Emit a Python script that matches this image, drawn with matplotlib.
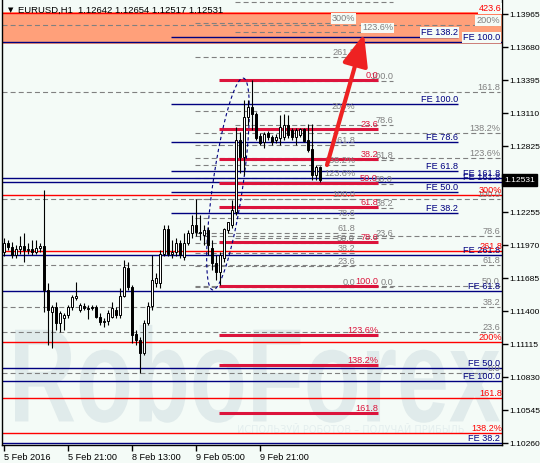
import numpy as np
import matplotlib.pyplot as plt
from matplotlib.patches import Rectangle, FancyArrowPatch, PathPatch
from matplotlib.textpath import TextPath
from matplotlib.font_manager import FontProperties
from matplotlib.transforms import Affine2D, blended_transform_factory

plt.rcParams['font.family'] = ['Liberation Sans', 'DejaVu Sans']

# EURUSD H1 candles
opens = [1.11910, 1.11988, 1.11953, 1.11884, 1.11936, 1.11962, 1.11927, 1.11936, 1.11910, 1.11944,
         1.11962, 1.11582, 1.11392, 1.11435, 1.11297, 1.11340, 1.11366, 1.11435, 1.11512, 1.11409,
         1.11443, 1.11426, 1.11435, 1.11435, 1.11348, 1.11305, 1.11314, 1.11348, 1.11409, 1.11366,
         1.11530, 1.11772, 1.11607, 1.11202, 1.11150, 1.11038, 1.11297, 1.11443, 1.11642, 1.11642,
         1.11893, 1.12108, 1.11893, 1.11910, 1.11988, 1.11867, 1.11988, 1.12074, 1.12143, 1.12082,
         1.12057, 1.12100, 1.11944, 1.11815, 1.11737, 1.11858, 1.12100, 1.12143, 1.12255, 1.12877,
         1.12730, 1.13076, 1.13162, 1.13102, 1.12912, 1.12860, 1.12937, 1.12903, 1.12877, 1.12894,
         1.12903, 1.13007, 1.12963, 1.12903, 1.12920, 1.12972, 1.12877, 1.12799, 1.12575, 1.12642]
highs = [1.12031, 1.12013, 1.11996, 1.11970, 1.12048, 1.12074, 1.11988, 1.12013, 1.12013, 1.11988,
         1.12445, 1.11642, 1.11452, 1.11478, 1.11400, 1.11383, 1.11452, 1.11538, 1.11651, 1.11469,
         1.11469, 1.11452, 1.11452, 1.11452, 1.11383, 1.11340, 1.11409, 1.11478, 1.11435, 1.11599,
         1.11841, 1.11823, 1.11625, 1.11236, 1.11176, 1.11323, 1.11478, 1.11884, 1.11728, 1.11927,
         1.12143, 1.12143, 1.12013, 1.12031, 1.12013, 1.12074, 1.12100, 1.12229, 1.12367, 1.12229,
         1.12143, 1.12126, 1.12013, 1.11884, 1.11910, 1.12117, 1.12169, 1.12359, 1.12989, 1.12946,
         1.13222, 1.13222, 1.13395, 1.13119, 1.12937, 1.12946, 1.12955, 1.12920, 1.12929, 1.13093,
         1.13102, 1.13093, 1.12981, 1.12981, 1.12981, 1.12981, 1.13015, 1.13015, 1.12661, 1.12654]
lows = [1.11875, 1.11927, 1.11858, 1.11858, 1.11893, 1.11823, 1.11893, 1.11884, 1.11893, 1.11910,
        1.11392, 1.11107, 1.11081, 1.11236, 1.11219, 1.11236, 1.11340, 1.11409, 1.11495, 1.11392,
        1.11409, 1.11331, 1.11409, 1.11340, 1.11279, 1.11262, 1.11279, 1.11340, 1.11340, 1.11340,
        1.11521, 1.11582, 1.11124, 1.11107, 1.10865, 1.11020, 1.11279, 1.11409, 1.11607, 1.11599,
        1.11875, 1.11875, 1.11858, 1.11875, 1.11858, 1.11841, 1.11970, 1.12031, 1.12048, 1.12013,
        1.11970, 1.11884, 1.11754, 1.11668, 1.11625, 1.11823, 1.12074, 1.12117, 1.12229, 1.12592,
        1.12575, 1.13007, 1.12963, 1.12877, 1.12834, 1.12808, 1.12877, 1.12834, 1.12851, 1.12834,
        1.12877, 1.12894, 1.12877, 1.12834, 1.12903, 1.12860, 1.12773, 1.12531, 1.12531, 1.12517]
closes = [1.11988, 1.11953, 1.11884, 1.11936, 1.11962, 1.11927, 1.11936, 1.11910, 1.11944, 1.11962,
          1.11582, 1.11409, 1.11435, 1.11297, 1.11383, 1.11366, 1.11435, 1.11521, 1.11530, 1.11452,
          1.11426, 1.11418, 1.11426, 1.11348, 1.11305, 1.11314, 1.11383, 1.11426, 1.11366, 1.11530,
          1.11780, 1.11607, 1.11193, 1.11150, 1.11038, 1.11297, 1.11443, 1.11668, 1.11685, 1.11893,
          1.12108, 1.11893, 1.11910, 1.11988, 1.11884, 1.11988, 1.12074, 1.12143, 1.12082, 1.12074,
          1.12100, 1.11970, 1.11815, 1.11737, 1.11884, 1.12108, 1.12169, 1.12272, 1.12877, 1.12730,
          1.13076, 1.13162, 1.13102, 1.12894, 1.12851, 1.12929, 1.12903, 1.12860, 1.12903, 1.12989,
          1.13007, 1.12920, 1.12903, 1.12963, 1.12972, 1.12868, 1.12791, 1.12575, 1.12644, 1.12531]

tick_pos = [0, 16, 32, 48, 64]
tick_labels = ['5 Feb 2016', '5 Feb 21:00', '8 Feb 13:00', '9 Feb 05:00', '9 Feb 21:00']
price_ticks = [1.13965, 1.13680, 1.13395, 1.13110, 1.12825, 1.12255, 1.11970,
               1.11685, 1.11400, 1.11115, 1.10830, 1.10545, 1.10260]
last_price = 1.12531
title = 'EURUSD,H1  1.12642 1.12654 1.12517 1.12531'

# crimson retracement (high -> low)
ret_p0, ret_p100 = 1.13395, 1.11616
ret_levels = [0, 23.6, 38.2, 50, 61.8, 78.6, 100, 123.6, 138.2, 161.8]
ret_labels = ['0.0', '23.6', '38.2', '50.0', '61.8', '78.6', '100.0', '123.6%', '138.2%', '161.8']

# grey fibo, full width
ga_p0, ga_p100 = 1.10865, 1.12367
ga_levels = [0, 23.6, 38.2, 61.8, 100, 161.8, 200]
ga_labels = ['0.0', '23.6', '38.2', '61.8', '100.0', '161.8', '200%']
ga2_levels = [50, 78.6, 123.6, 138.2]
ga2_labels = ['50.0', '78.6', '123.6%', '138.2%']

# grey fibo, short (labels near middle)
gc_p0, gc_p100 = 1.11607, 1.12367
gc_levels = [0, 23.6, 38.2, 50, 61.8, 78.6, 100, 123.6, 138.2, 161.8, 200, 261.8, 300]
gc_labels = ['0.0', '23.6', '38.2', '50.0', '61.8', '78.6', '100.0', '123.6%', '138.2%',
             '161.8', '200%', '261.8', '300%']

gd_p0, gd_p100 = 1.11607, 1.13386
gd_levels = [0, 23.6, 38.2, 50, 61.8, 78.6, 100, 123.6, 138.2]
gd_labels = ['0.0', '23.6', '38.2', '50.0', '61.8', '78.6', '100.0', '123.6%', '138.2%']

# blue expansion (short)
b1_p0, b1_p100 = 1.11668, 1.13188
b1_levels = [38.2, 50, 61.8, 78.6, 100, 138.2]
b1_labels = ['FE 38.2', 'FE 50.0', 'FE 61.8', 'FE 78.6', 'FE 100.0', 'FE 138.2']

# blue expansion lines, full width
fe_prices = [1.13723, 1.12549, 1.12514, 1.11884, 1.11573, 1.10908, 1.10796, 1.10260]
fe_labels = ['FE 100.0', 'FE 161.8', 'FE 161.8', 'FE 261.8', 'FE 61.8', 'FE 50.0', 'FE 100.0', 'FE 38.2']

# red expansion, full width
red_p0, red_p100 = 1.08596, 1.09865
red_levels = [138.2, 161.8, 200, 261.8, 300, 423.6]
red_labels = ['138.2%', '161.8', '200%', '261.8', '300%', '423.6']

zone_lo, zone_hi = 1.13706, 1.13982
arrow_from = (80.75, 1.12661)
arrow_to = (90.0, 1.13792)
ell_top = (59.75, 1.13412)
ell_bottom = (52.25, 1.11582)
ell_halfwidth = 3.8

BG = '#F4FBF7'
FS = 6.6
fig = plt.figure(figsize=(5.4, 4.63), dpi=100, facecolor=BG)
ax = fig.add_axes([2 / 540, 18 / 463, 500 / 540, 445 / 463], facecolor=BG)
ax.set_xlim(-0.5, 124.5)
ax.set_ylim(1.10243, 1.14086)

ax.add_patch(Rectangle((-0.5, zone_lo), 125, zone_hi - zone_lo, fc='#FFA07A', ec='none', zorder=0.2))

# watermark
tp = TextPath((0, 0), 'RoboForex', size=1, prop=FontProperties(family='Liberation Sans', weight='bold'))
bb = tp.get_extents()
x0w, x1w, y0w, y1w = 0.026, 0.996, 0.05, 0.27
tr = Affine2D().translate(-bb.x0, -bb.y0).scale((x1w - x0w) / bb.width, (y1w - y0w) / bb.height).translate(x0w, y0w)
ax.add_patch(PathPatch(tp, transform=tr + ax.transAxes, fc='#E0EBEB', ec='none', zorder=0.3))
ax.text(0.47, 0.027, 'ИСПОЛЬЗУЙ РОБОТОВ – ПОЛУЧАЙ ПРИБЫЛЬ', transform=ax.transAxes,
        fontsize=7, color='#E4EEEE', zorder=0.3, family=['DejaVu Sans'])


def label(x, p, text, color, z=6):
    kw = {}
    if zone_lo - 0.0001 < p < zone_hi + 0.0002:
        kw['bbox'] = dict(boxstyle='square,pad=0.1', fc=BG, ec='none')
    ax.text(x, p, text, ha='right', va='bottom', color=color, fontsize=FS, zorder=z,
            clip_on=True, **kw)


def fib(p0, p100, levels, labels, x0, x1, color, lw, ls, z):
    for lv, lab in zip(levels, labels):
        p = p0 + (p100 - p0) * lv / 100
        line = ax.hlines(p, x0, x1, color=color, lw=lw, zorder=z)
        if ls == 'dash':
            line.set_linestyle((0, (4.5, 2.8)))
        label(x1, p, lab, color, z + 3)


grey = '#808080'
fib(ga_p0, ga_p100, ga_levels, ga_labels, -0.5, 124, grey, 0.8, 'dash', 1)
fib(ga_p0, ga_p100, ga2_levels, ga2_labels, 47.75, 124, grey, 0.8, 'dash', 1)
fib(gc_p0, gc_p100, gc_levels, gc_labels, 47.75, 87.75, grey, 0.8, 'dash', 1)
fib(gd_p0, gd_p100, gd_levels, gd_labels, 57.75, 97.25, grey, 0.8, 'dash', 1)
fib(b1_p0, b1_p100, b1_levels, b1_labels, 41.75, 113.5, '#000080', 1.0, '-', 2)
for p, lab in zip(fe_prices, fe_labels):
    ax.hlines(p, -0.5, 124.5, color='#000080', lw=1.0, zorder=2)
    label(124, p, lab, '#000080', 5)
fib(red_p0, red_p100, red_levels, red_labels, -0.5, 124.5, '#FF0000', 1.0, '-', 2)
fib(ret_p0, ret_p100, ret_levels, ret_labels, 53.75, 93.5, '#DC143C', 2.2, '-', 2.5)

# dashed ellipse
t = np.linspace(0, 2 * np.pi, 200)
cx = (ell_top[0] + ell_bottom[0]) / 2
cy = (ell_top[1] + ell_bottom[1]) / 2
ex = cx + (ell_top[0] - cx) * np.cos(t) + ell_halfwidth * np.sin(t)
ey = cy + (ell_top[1] - cy) * np.cos(t)
ax.plot(ex, ey, color='#000080', lw=0.8, ls=(0, (3, 2.5)), zorder=3)

# candles
idx = np.arange(len(opens))
o = np.array(opens); c = np.array(closes)
ax.vlines(idx, lows, highs, color='black', lw=0.8, zorder=4)
up = c >= o
ax.bar(idx[up], (c - o)[up], bottom=o[up], width=0.7, color='white', edgecolor='black', lw=0.7, zorder=5)
ax.bar(idx[~up], (o - c)[~up], bottom=c[~up], width=0.7, color='black', edgecolor='black', lw=0.7, zorder=5)

ax.add_patch(FancyArrowPatch(arrow_from, arrow_to, arrowstyle='-|>,head_length=1.6,head_width=0.65',
                             mutation_scale=12, lw=3, color='#EE2222', shrinkA=0, shrinkB=0, zorder=9))

# axes
for s in ['left', 'right', 'bottom']:
    ax.spines[s].set_color('black')
    ax.spines[s].set_linewidth(1)
ax.spines['top'].set_visible(False)
ax.yaxis.tick_right()
ax.set_yticks(price_ticks)
ax.set_yticklabels([f'{v:.5f}' for v in price_ticks])
ax.set_xticks(tick_pos)
ax.set_xticklabels(tick_labels, ha='left')
ax.tick_params(axis='both', direction='out', length=4, width=1, labelsize=FS, colors='black', pad=2)
ax.tick_params(axis='y', labelsize=6.1, pad=1.2)

trans = blended_transform_factory(ax.transAxes, ax.transData)
ax.text(1.004, last_price, f'{last_price:.5f}', transform=trans, ha='left', va='center',
        color='white', fontsize=6.1, zorder=10,
        bbox=dict(boxstyle='square,pad=0.25', fc='black', ec='black'), clip_on=False)

fig.text(8 / 540, 1 - 10 / 463, '▼', fontsize=5, va='center', color='black', family=['DejaVu Sans'])
fig.text(18 / 540, 1 - 10 / 463, title, fontsize=FS + 0.2, va='center', color='black', zorder=10)

fig.savefig('out.png', dpi=100, facecolor=BG)
